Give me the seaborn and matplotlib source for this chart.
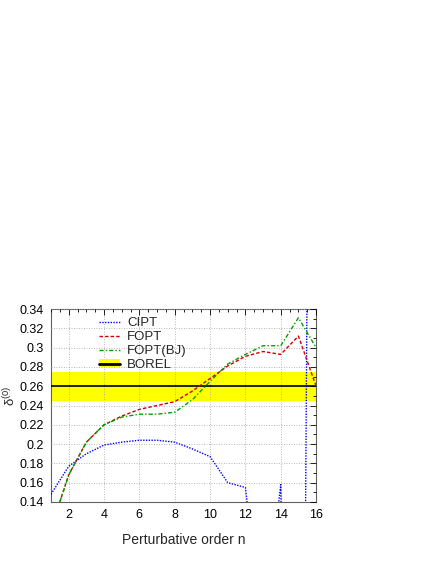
import numpy as np
import pandas as pd
import matplotlib
matplotlib.use('Agg')
import matplotlib.pyplot as plt
import seaborn as sns
from matplotlib.ticker import MultipleLocator
from matplotlib.patches import Patch
from matplotlib.lines import Line2D
from matplotlib.legend_handler import HandlerTuple

# ------------------------------------------------------------
# Data
# ------------------------------------------------------------
orders = np.arange(1, 17)

cipt = [0.148, 0.177, 0.190, 0.199, 0.202, 0.204, 0.204, 0.202,
        0.195, 0.187, 0.160, 0.155, 0.000, 0.158, -1.000, 1.800]
fopt = [0.112, 0.168, 0.202, 0.220, 0.229, 0.236, 0.240, 0.244,
        0.255, 0.268, 0.281, 0.291, 0.296, 0.293, 0.312, 0.260]
fopt_bj = [0.112, 0.168, 0.202, 0.220, 0.228, 0.231, 0.231, 0.233,
           0.246, 0.265, 0.283, 0.293, 0.302, 0.302, 0.331, 0.300]

borel_central = 0.260
borel_low = 0.245
borel_high = 0.275

y_ticks = [0.14, 0.16, 0.18, 0.2, 0.22, 0.24, 0.26, 0.28, 0.3, 0.32, 0.34]

df = pd.DataFrame({'n': orders, 'CIPT': cipt, 'FOPT': fopt, 'FOPT(BJ)': fopt_bj})

# ------------------------------------------------------------
# Plot
# ------------------------------------------------------------
sns.set_style('white')
plt.rcParams['font.family'] = ['Liberation Sans', 'DejaVu Sans']

fig = plt.figure(figsize=(4.36, 5.64), dpi=100)
ax = fig.add_axes([0.117, 0.110, 0.608, 0.342])

ax.axhspan(borel_low, borel_high, color='#ffff00', zorder=1, lw=0)
ax.axhline(borel_central, color='black', lw=1.2, zorder=3)

sns.lineplot(data=df, x='n', y='CIPT', ax=ax, color='#0000ff',
             lw=1.0, linestyle=(0, (1, 1)), zorder=4)
sns.lineplot(data=df, x='n', y='FOPT', ax=ax, color='#cc0000',
             lw=1.0, linestyle=(0, (2.5, 1.5)), zorder=4)
sns.lineplot(data=df, x='n', y='FOPT(BJ)', ax=ax, color='#00a000',
             lw=1.0, linestyle=(0, (3, 1.5, 1, 1.5)), zorder=4)

ax.set_xlim(1, 16)
ax.set_ylim(0.14, 0.34)
ax.xaxis.set_major_locator(MultipleLocator(2))
ax.xaxis.set_minor_locator(MultipleLocator(0.5))
ax.yaxis.set_minor_locator(MultipleLocator(0.01))
ax.set_yticks(y_ticks)
ax.set_yticklabels(['%g' % v for v in y_ticks])

ax.grid(True, which='major', color='#a0a0a0', linestyle=(0, (1, 2)), lw=0.6, zorder=2)
ax.set_axisbelow(False)
ax.tick_params(which='both', direction='in', top=True, right=True,
               labelsize=9, colors='black', length=4, width=0.6, pad=5)
ax.tick_params(which='minor', length=2)
for s in ax.spines.values():
    s.set_color('#606060')
    s.set_linewidth(0.8)

ax.set_xlabel('Perturbative order n', fontsize=10, labelpad=9)
ax.set_ylabel(r'$\mathregular{\delta^{(0)}}$', fontsize=9.5)
ax.yaxis.set_label_coords(-0.125, 0.55)

handles = [
    Line2D([], [], color='#0000ff', lw=1.0, linestyle=(0, (1, 1))),
    Line2D([], [], color='#cc0000', lw=1.0, linestyle=(0, (2.5, 1.5))),
    Line2D([], [], color='#00a000', lw=1.0, linestyle=(0, (3, 1.5, 1, 1.5))),
    (Patch(facecolor='#ffff00', lw=0), Line2D([], [], color='black', lw=2.0)),
]
labels = ['CIPT', 'FOPT', 'FOPT(BJ)', 'BOREL']
leg = ax.legend(handles, labels, loc='upper left', bbox_to_anchor=(0.15, 1.0),
                frameon=False, fontsize=9.5, handlelength=1.6, handleheight=0.5,
                handletextpad=0.55, labelspacing=0.15, borderaxespad=0.2,
                handler_map={tuple: HandlerTuple(ndivide=1, pad=0)})

fig.savefig('out.png', dpi=100)
